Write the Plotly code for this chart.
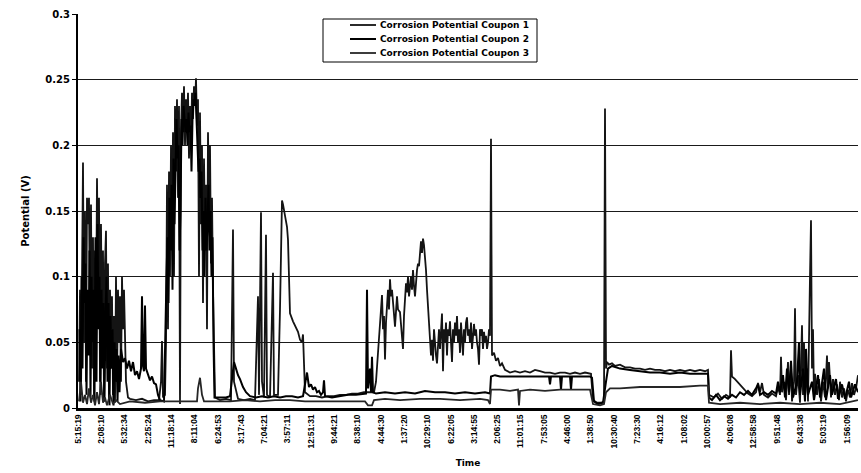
import plotly.graph_objects as go

# Time stamps printed under the axis, one every LABEL_EVERY samples
TIME_LABELS = [
    "5:15:19", "2:08:10", "5:32:34", "2:25:24", "11:18:14", "8:11:04", "6:24:53",
    "3:17:43", "7:04:21", "3:57:11", "12:51:31", "9:44:21", "8:38:10", "4:44:30",
    "1:37:20", "10:29:10", "6:22:05", "3:14:55", "2:06:25", "11:01:15", "7:53:05",
    "4:46:00", "1:38:50", "10:30:40", "7:23:30", "4:16:12", "1:08:02", "10:00:57",
    "4:06:08", "12:58:58", "9:51:48", "6:43:38", "5:03:19", "1:56:09",
]
LABEL_EVERY = 233
N_SAMPLES = 7800

# (sample number, potential in V)
COUPON1 = [
    (10, 0.02), (20, 0.09), (30, 0.01), (40, 0.12), (50, 0.187), (60, 0.05), (70, 0.15),
    (80, 0.02), (90, 0.16), (100, 0.14), (110, 0.16), (120, 0.06), (130, 0.155), (140, 0.03),
    (150, 0.13), (160, 0.01), (170, 0.12), (180, 0.06), (190, 0.175), (200, 0.1), (210, 0.16),
    (220, 0.02), (230, 0.14), (240, 0.05), (250, 0.12), (260, 0.005), (270, 0.11), (280, 0.135),
    (290, 0.03), (300, 0.11), (310, 0.005), (320, 0.09), (330, 0.06), (340, 0.085), (350, 0.01),
    (360, 0.07), (370, 0.004), (380, 0.1), (390, 0.02), (400, 0.09), (410, 0.05), (420, 0.085),
    (430, 0.02), (440, 0.1), (450, 0.06), (460, 0.09), (470, 0.04), (480, 0.02), (500, 0.008),
    (520, 0.007), (580, 0.006), (640, 0.007), (700, 0.005), (760, 0.006), (810, 0.006),
    (830, 0.02), (840, 0.051), (850, 0.008), (870, 0.01),
    (880, 0.05), (890, 0.17), (900, 0.06), (910, 0.18), (920, 0.1), (930, 0.2), (940, 0.13),
    (950, 0.21), (960, 0.1), (970, 0.23), (980, 0.18), (990, 0.235), (1000, 0.16), (1010, 0.23),
    (1020, 0.003), (1030, 0.21), (1040, 0.24), (1050, 0.21), (1060, 0.245), (1070, 0.2),
    (1080, 0.235), (1090, 0.215), (1100, 0.24), (1110, 0.19), (1120, 0.23), (1130, 0.2),
    (1140, 0.24), (1150, 0.22), (1160, 0.245), (1170, 0.23), (1180, 0.251), (1190, 0.215),
    (1200, 0.235), (1210, 0.1), (1220, 0.225), (1230, 0.14), (1240, 0.2), (1250, 0.08),
    (1260, 0.19), (1270, 0.13), (1280, 0.17), (1290, 0.06), (1300, 0.21), (1310, 0.15),
    (1320, 0.2), (1330, 0.11), (1340, 0.16), (1350, 0.09), (1360, 0.03), (1370, 0.008),
    (1420, 0.006), (1480, 0.007), (1530, 0.006), (1550, 0.136), (1560, 0.02), (1600, 0.007),
    (1660, 0.006), (1720, 0.007), (1770, 0.006), (1800, 0.085), (1810, 0.01), (1830, 0.149),
    (1840, 0.02), (1860, 0.008), (1880, 0.132), (1890, 0.01), (1920, 0.008), (1950, 0.103),
    (1960, 0.01), (2000, 0.01), (2020, 0.075), (2040, 0.158), (2050, 0.155), (2070, 0.145),
    (2090, 0.138), (2100, 0.128), (2120, 0.072), (2150, 0.066), (2170, 0.063), (2200, 0.058),
    (2220, 0.052), (2240, 0.05), (2250, 0.056), (2270, 0.012), (2320, 0.009),
    (2380, 0.009), (2440, 0.008), (2500, 0.009), (2560, 0.009), (2620, 0.01), (2680, 0.01),
    (2740, 0.011), (2800, 0.011), (2860, 0.012), (2920, 0.012), (2960, 0.012),
    (2980, 0.02), (3000, 0.045), (3020, 0.065), (3040, 0.086), (3050, 0.06), (3060, 0.07),
    (3070, 0.037), (3080, 0.065), (3100, 0.09), (3110, 0.075), (3120, 0.098), (3130, 0.085),
    (3140, 0.09), (3160, 0.07), (3170, 0.062), (3190, 0.085), (3200, 0.075), (3220, 0.073),
    (3230, 0.065), (3250, 0.045), (3260, 0.07), (3280, 0.095), (3290, 0.088), (3300, 0.1),
    (3310, 0.085), (3330, 0.1), (3340, 0.09), (3350, 0.105), (3360, 0.093), (3370, 0.085),
    (3390, 0.105), (3400, 0.11), (3410, 0.108), (3420, 0.12), (3430, 0.127), (3440, 0.118),
    (3450, 0.129), (3460, 0.124), (3470, 0.116), (3480, 0.105), (3490, 0.09), (3500, 0.075),
    (3510, 0.06), (3520, 0.048), (3530, 0.04), (3540, 0.052), (3550, 0.036), (3560, 0.06),
    (3570, 0.045), (3580, 0.04), (3590, 0.034), (3600, 0.05), (3610, 0.06), (3620, 0.045),
    (3630, 0.065), (3640, 0.072), (3650, 0.028), (3660, 0.06), (3670, 0.05), (3680, 0.065),
    (3690, 0.04), (3700, 0.06), (3710, 0.055), (3720, 0.066), (3730, 0.05), (3740, 0.035),
    (3750, 0.06), (3760, 0.05), (3770, 0.065), (3780, 0.055), (3790, 0.07), (3800, 0.05),
    (3810, 0.06), (3820, 0.042), (3830, 0.065), (3840, 0.055), (3850, 0.04), (3860, 0.06),
    (3870, 0.05), (3880, 0.065), (3890, 0.069), (3900, 0.055), (3910, 0.06), (3920, 0.05),
    (3930, 0.065), (3940, 0.045), (3950, 0.06), (3960, 0.064), (3970, 0.055), (3980, 0.06),
    (3990, 0.05), (4000, 0.045), (4010, 0.033), (4020, 0.06), (4030, 0.055), (4040, 0.06),
    (4050, 0.045), (4060, 0.058), (4070, 0.05), (4080, 0.055), (4090, 0.045), (4100, 0.05),
    (4110, 0.06), (4120, 0.055), (4130, 0.205), (4140, 0.04), (4160, 0.042), (4180, 0.036),
    (4200, 0.038), (4220, 0.032), (4240, 0.034), (4270, 0.029), (4320, 0.027), (4370, 0.028),
    (4420, 0.027), (4470, 0.028), (4520, 0.027), (4570, 0.029), (4620, 0.028), (4670, 0.027),
    (4720, 0.027), (4770, 0.026), (4820, 0.027), (4870, 0.027), (4920, 0.026), (4970, 0.027),
    (5020, 0.026), (5070, 0.027), (5130, 0.026), (5150, 0.006), (5190, 0.004), (5230, 0.004),
    (5260, 0.005), (5270, 0.228), (5280, 0.03), (5290, 0.035), (5310, 0.033), (5340, 0.034),
    (5370, 0.032), (5420, 0.033), (5470, 0.031), (5520, 0.031), (5570, 0.03), (5620, 0.03),
    (5670, 0.029), (5720, 0.03), (5770, 0.029), (5820, 0.029), (5870, 0.028), (5920, 0.029),
    (5970, 0.028), (6020, 0.029), (6070, 0.028), (6120, 0.029), (6170, 0.028), (6220, 0.029),
    (6270, 0.028), (6300, 0.029), (6310, 0.01),
    (6360, 0.008), (6400, 0.011), (6440, 0.007), (6480, 0.01), (6520, 0.008), (6530, 0.044),
    (6540, 0.024), (6570, 0.022), (6620, 0.018), (6670, 0.014), (6700, 0.011), (6740, 0.009),
    (6780, 0.012), (6800, 0.019), (6820, 0.012), (6840, 0.019), (6860, 0.01), (6900, 0.008),
    (6940, 0.011), (6980, 0.009), (7000, 0.016), (7020, 0.01), (7030, 0.039), (7040, 0.012),
    (7060, 0.02), (7080, 0.006), (7100, 0.035), (7110, 0.01), (7130, 0.03), (7140, 0.005),
    (7160, 0.02), (7170, 0.076), (7180, 0.01), (7200, 0.025), (7220, 0.004), (7240, 0.063),
    (7250, 0.01), (7260, 0.05), (7270, 0.008), (7290, 0.03), (7300, 0.005), (7320, 0.1),
    (7330, 0.143), (7340, 0.03), (7350, 0.06), (7360, 0.008), (7370, 0.026), (7390, 0.01),
    (7410, 0.022), (7430, 0.005), (7450, 0.02), (7470, 0.008), (7490, 0.04), (7500, 0.015),
    (7510, 0.035), (7530, 0.008), (7550, 0.022), (7570, 0.01), (7590, 0.018), (7610, 0.006),
    (7620, 0.02), (7640, 0.008), (7660, 0.015), (7680, 0.005), (7700, 0.014), (7720, 0.008),
    (7740, 0.019), (7760, 0.01), (7780, 0.015), (7800, 0.025),
]

COUPON2 = [
    (15, 0.06), (25, 0.005), (35, 0.1), (45, 0.03), (55, 0.13), (65, 0.08), (75, 0.11),
    (85, 0.01), (95, 0.09), (105, 0.04), (115, 0.12), (125, 0.008), (135, 0.1), (145, 0.05),
    (155, 0.09), (165, 0.005), (175, 0.13), (185, 0.02), (195, 0.14), (205, 0.06), (215, 0.1),
    (225, 0.01), (235, 0.09), (245, 0.03), (255, 0.08), (265, 0.005), (275, 0.07), (285, 0.1),
    (295, 0.02), (305, 0.08), (315, 0.002), (325, 0.07), (335, 0.03), (345, 0.06), (355, 0.002),
    (365, 0.05), (375, 0.02), (385, 0.045), (395, 0.005), (405, 0.04), (415, 0.012),
    (430, 0.045), (450, 0.035), (470, 0.038), (490, 0.03), (510, 0.036), (530, 0.028),
    (550, 0.035), (570, 0.025), (590, 0.028), (610, 0.022), (630, 0.03), (640, 0.085),
    (650, 0.032), (660, 0.028), (670, 0.078), (680, 0.03), (700, 0.025), (720, 0.021),
    (740, 0.024), (760, 0.019), (780, 0.018), (800, 0.01), (820, 0.006), (860, 0.005),
    (885, 0.1), (895, 0.13), (905, 0.08), (915, 0.16), (925, 0.12), (935, 0.17), (945, 0.09),
    (955, 0.19), (965, 0.14), (975, 0.2), (985, 0.22), (995, 0.19), (1005, 0.2), (1015, 0.12),
    (1025, 0.15), (1035, 0.22), (1045, 0.2), (1055, 0.23), (1065, 0.22), (1075, 0.21),
    (1085, 0.22), (1095, 0.2), (1105, 0.225), (1115, 0.21), (1125, 0.215), (1135, 0.18),
    (1145, 0.22), (1155, 0.235), (1165, 0.23), (1175, 0.24), (1185, 0.22), (1195, 0.2),
    (1205, 0.18), (1215, 0.19), (1225, 0.16), (1235, 0.18), (1245, 0.12), (1255, 0.15),
    (1265, 0.1), (1275, 0.16), (1285, 0.12), (1295, 0.14), (1305, 0.17), (1315, 0.12),
    (1325, 0.15), (1335, 0.1), (1345, 0.13), (1355, 0.05), (1365, 0.008),
    (1420, 0.008), (1480, 0.008), (1520, 0.009), (1560, 0.035), (1580, 0.03), (1600, 0.025),
    (1620, 0.022), (1650, 0.016), (1680, 0.012), (1720, 0.009), (1780, 0.008), (1840, 0.009),
    (1900, 0.008), (1960, 0.009), (2020, 0.008), (2080, 0.009), (2140, 0.009), (2200, 0.008),
    (2250, 0.009), (2270, 0.018), (2290, 0.027), (2310, 0.016), (2330, 0.018), (2350, 0.014),
    (2370, 0.016), (2390, 0.012), (2410, 0.013), (2430, 0.01), (2450, 0.012), (2460, 0.021),
    (2470, 0.009), (2540, 0.008), (2620, 0.009), (2700, 0.01), (2780, 0.01), (2860, 0.011),
    (2880, 0.011), (2890, 0.09), (2900, 0.015), (2920, 0.03), (2930, 0.012), (2940, 0.039),
    (2950, 0.012), (2980, 0.011), (3070, 0.012), (3170, 0.011), (3270, 0.012), (3370, 0.011),
    (3470, 0.013), (3570, 0.012), (3670, 0.012), (3770, 0.011), (3870, 0.012), (3970, 0.011),
    (4070, 0.012), (4120, 0.011), (4130, 0.024), (4170, 0.025), (4220, 0.024), (4320, 0.024),
    (4420, 0.024), (4520, 0.024), (4620, 0.024), (4710, 0.024), (4720, 0.018), (4730, 0.024),
    (4820, 0.024), (4830, 0.014), (4840, 0.024), (4920, 0.024), (4930, 0.014), (4940, 0.024),
    (5020, 0.024), (5120, 0.024), (5140, 0.023), (5160, 0.005), (5200, 0.003), (5250, 0.004),
    (5280, 0.02), (5300, 0.03), (5340, 0.032), (5420, 0.03), (5520, 0.029), (5620, 0.028),
    (5720, 0.027), (5820, 0.027), (5920, 0.026), (6020, 0.027), (6120, 0.026), (6220, 0.026),
    (6300, 0.026), (6310, 0.008),
    (6340, 0.006), (6380, 0.01), (6420, 0.006), (6460, 0.009), (6500, 0.007), (6540, 0.01),
    (6580, 0.008), (6620, 0.012), (6660, 0.01), (6700, 0.013), (6740, 0.01), (6780, 0.015),
    (6800, 0.018), (6820, 0.01), (6860, 0.012), (6900, 0.01), (6940, 0.013), (6980, 0.011),
    (7000, 0.02), (7020, 0.012), (7050, 0.025), (7070, 0.008), (7090, 0.03), (7110, 0.012),
    (7130, 0.036), (7150, 0.008), (7190, 0.02), (7210, 0.05), (7220, 0.01), (7250, 0.03),
    (7270, 0.005), (7280, 0.045), (7300, 0.01), (7340, 0.02), (7360, 0.006), (7400, 0.025),
    (7420, 0.008), (7460, 0.03), (7480, 0.006), (7520, 0.025), (7540, 0.01), (7580, 0.022),
    (7600, 0.007), (7640, 0.018), (7670, 0.007), (7710, 0.02), (7730, 0.008), (7770, 0.018),
    (7800, 0.012),
]

COUPON3 = [
    (10, 0.005), (30, 0.02), (50, 0.004), (70, 0.01), (90, 0.003), (110, 0.015), (130, 0.004),
    (150, 0.01), (170, 0.002), (190, 0.012), (210, 0.003), (230, 0.02), (250, 0.004),
    (270, 0.008), (290, 0.002), (320, 0.01), (350, 0.003), (380, 0.006), (420, 0.003),
    (470, 0.004), (520, 0.005), (670, 0.004), (820, 0.005), (970, 0.005), (1120, 0.005),
    (1190, 0.005), (1200, 0.015), (1220, 0.023), (1240, 0.01), (1260, 0.005), (1370, 0.005),
    (1520, 0.005), (1670, 0.006), (1820, 0.005), (1970, 0.006), (2120, 0.006), (2270, 0.005),
    (2420, 0.005), (2570, 0.005), (2720, 0.005), (2870, 0.005), (2900, 0.002), (2940, 0.002),
    (2960, 0.006), (3070, 0.007), (3220, 0.006), (3420, 0.007), (3620, 0.007), (3820, 0.006),
    (4020, 0.007), (4100, 0.006), (4120, 0.003), (4130, 0.014), (4220, 0.014), (4320, 0.013),
    (4400, 0.014), (4410, 0.002), (4420, 0.013), (4520, 0.014), (4670, 0.013), (4820, 0.014),
    (4970, 0.014), (5120, 0.014), (5150, 0.003), (5220, 0.002), (5260, 0.003), (5280, 0.012),
    (5320, 0.015), (5420, 0.015), (5620, 0.016), (5820, 0.016), (6020, 0.016), (6220, 0.017),
    (6300, 0.017), (6310, 0.004), (6420, 0.003), (6620, 0.004), (6820, 0.003), (7020, 0.004),
    (7220, 0.003), (7420, 0.004), (7620, 0.003), (7800, 0.006),
]

SERIES = [
    ("Corrosion Potential Coupon 1", COUPON1, "#141414", 1.8),
    ("Corrosion Potential Coupon 2", COUPON2, "#000000", 2.0),
    ("Corrosion Potential Coupon 3", COUPON3, "#262626", 1.8),
]

fig = go.Figure()
for name, pts, color, width in SERIES:
    xs = [p[0] for p in pts]
    ys = [p[1] for p in pts]
    fig.add_trace(go.Scatter(x=xs, y=ys, mode="lines", name=name,
                             line=dict(color=color, width=width), showlegend=False))

tick_pos = [k * LABEL_EVERY for k in range(len(TIME_LABELS))]

L, R, T, B = 78, 3, 14, 65
W, H = 861, 473
pw, ph = W - L - R, H - T - B


def px(x):
    return (x - L) / pw


def py(y):
    return (H - B - y) / ph


# Legend drawn as a framed box with sample lines and labels
shapes = [dict(type="rect", xref="paper", yref="paper",
               x0=px(323), x1=px(537), y0=py(62), y1=py(19),
               line=dict(color="black", width=1), fillcolor="white", layer="above")]
annotations = []
for i, (name, _, color, width) in enumerate(SERIES):
    yy = py(25 + 14 * i)
    shapes.append(dict(type="line", xref="paper", yref="paper",
                       x0=px(350), x1=px(376), y0=yy, y1=yy,
                       line=dict(color=color, width=width), layer="above"))
    annotations.append(dict(xref="paper", yref="paper", x=px(378), y=yy,
                            text=name, showarrow=False, xanchor="left", yanchor="middle",
                            font=dict(family="DejaVu Sans", size=9, color="black", weight="bold")))

fig.update_layout(
    width=W, height=H,
    margin=dict(l=L, r=R, t=T, b=B, pad=0),
    paper_bgcolor="white", plot_bgcolor="white",
    shapes=shapes, annotations=annotations,
    font=dict(family="DejaVu Sans", color="black"),
)
fig.update_xaxes(
    range=[0, N_SAMPLES], tickmode="array", tickvals=tick_pos, ticktext=TIME_LABELS,
    tickangle=-90, tickfont=dict(family="Liberation Sans", size=8.5, weight="bold"),
    showgrid=False, zeroline=False, showline=True, linecolor="black", linewidth=3,
    ticks="", title=dict(text="Time", font=dict(family="DejaVu Sans", size=9, weight="bold"),
                         standoff=13),
)
fig.update_yaxes(
    range=[0, 0.3], tickmode="array", tickvals=[0, 0.05, 0.1, 0.15, 0.2, 0.25, 0.3],
    ticktext=["0", "0.05", "0.1", "0.15", "0.2", "0.25", "0.3"],
    tickfont=dict(family="DejaVu Sans", size=10, weight="bold"),
    showgrid=True, gridcolor="#1a1a1a", gridwidth=1, zeroline=False,
    showline=True, linecolor="black", linewidth=2, ticks="outside", ticklen=4,
    tickcolor="black",
    title=dict(text="Potential (V)", font=dict(family="DejaVu Sans", size=10, weight="bold"),
               standoff=14),
)

fig.write_html("out.html")
